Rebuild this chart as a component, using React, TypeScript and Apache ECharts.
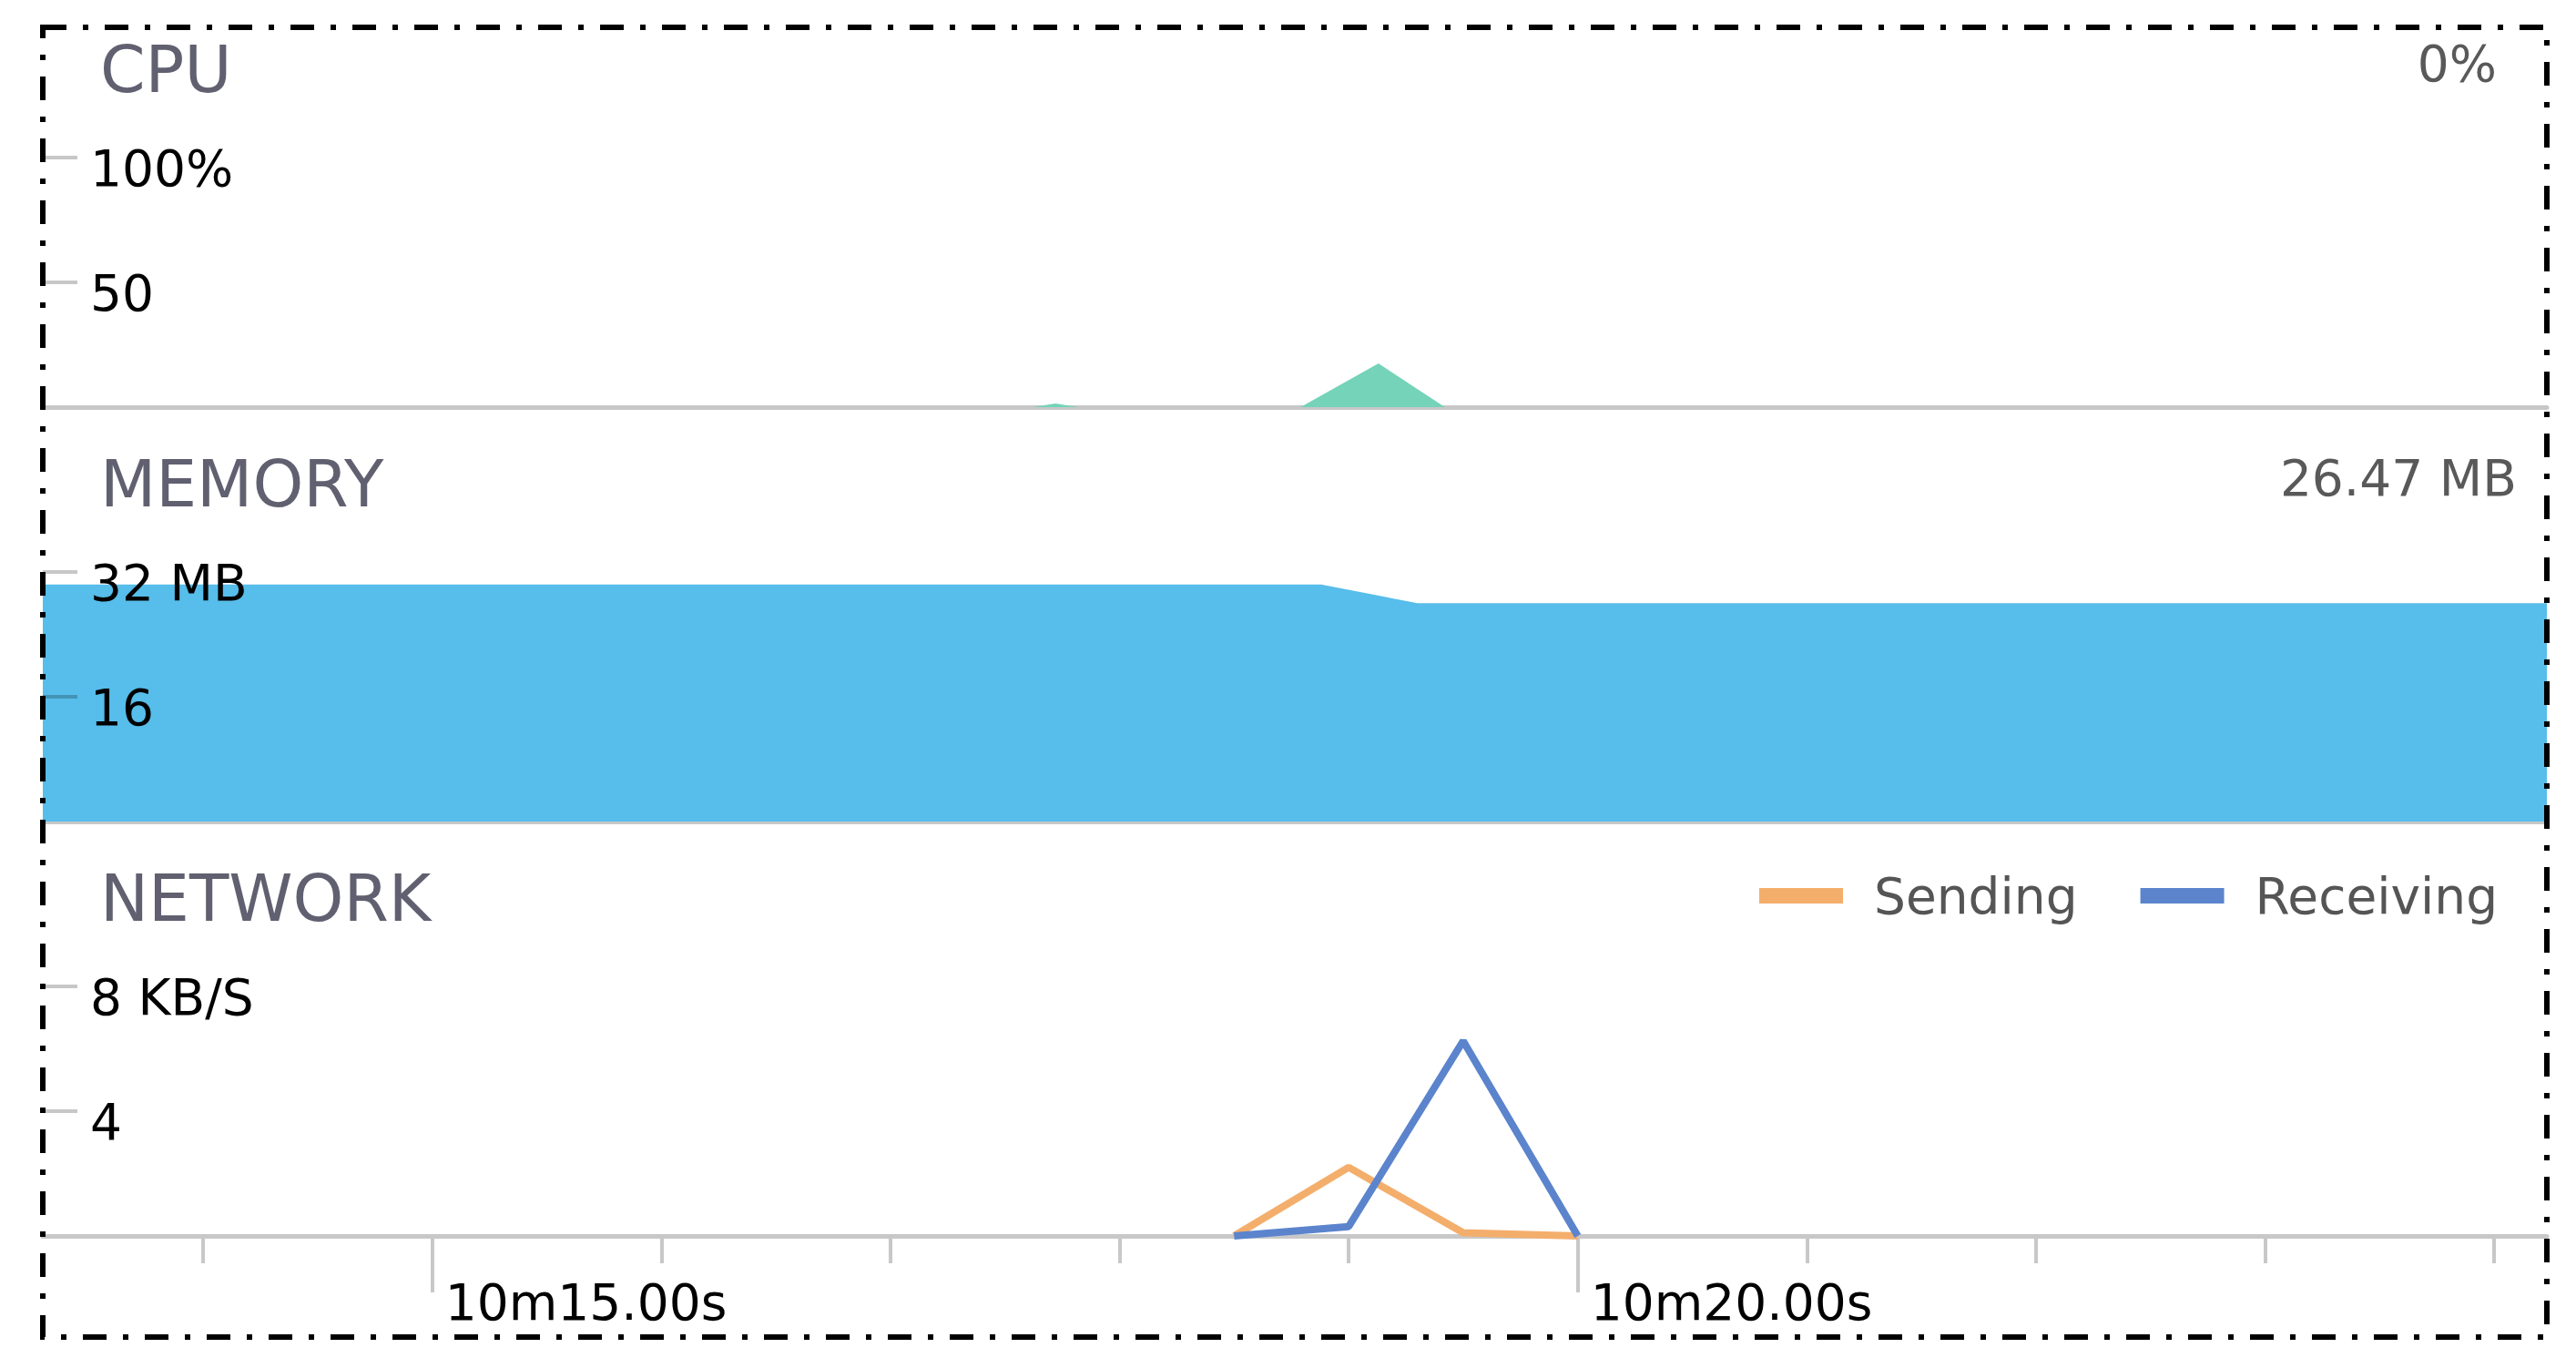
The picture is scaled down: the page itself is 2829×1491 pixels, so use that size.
import React, { useEffect, useRef } from "react";
import * as echarts from "echarts";

// ---- data (time in seconds after 10 minutes) ----
const timeRange = [13.3, 24.23];
const timeMajorTicks = [15, 20];
const timeMajorLabels = ["10m15.00s", "10m20.00s"];
const timeMinorTicks = [14, 16, 17, 18, 19, 21, 22, 23, 24];

const panelTitles = ["CPU", "MEMORY", "NETWORK"];
const currentCpu = "0%";
const currentMemory = "26.47 MB";

const cpuTimes = [13.3, 17.62, 17.72, 17.82, 18.79, 19.13, 19.42, 24.23];
const cpuValues = [0, 0, 1.5, 0, 0, 17.5, 0, 0];

const memoryTimes = [13.3, 18.88, 19.3, 24.23];
const memoryValues = [30.4, 30.4, 28.0, 28.0];

const networkTimes = [18.5, 19.0, 19.5, 20.0];
const sendingValues = [0, 2.2, 0.1, 0];
const receivingValues = [0, 0.3, 6.25, 0];
const networkSeriesNames = ["Sending", "Receiving"];

const cpuTickValues = [50, 100];
const cpuTickLabels = ["50", "100%"];
const memoryTickValues = [16, 32];
const memoryTickLabels = ["16", "32 MB"];
const networkTickValues = [4, 8];
const networkTickLabels = ["4", "8 KB/S"];

// ---- styling ----
const FONT = "'DejaVu Sans', 'Liberation Sans', sans-serif";
const GRID_LEFT = 47;
const GRID_RIGHT = 32;
const GRID_TOP0 = 173;
const GRID_H = 274;
const STEP = 455;
const AXIS_GRAY = "rgba(0,0,0,0.22)";
const COLORS = {
  cpu: "#74d3b9",
  memory: "#57bdea",
  sending: "#f4ae6c",
  receiving: "#5b84cd",
};

function labelFrom(values: number[], labels: string[]) {
  return (v: number) => {
    const i = values.findIndex((x) => Math.abs(x - v) < 1e-9);
    return i >= 0 ? labels[i] : "";
  };
}

function yAxis(gridIndex: number, max: number, interval: number, values: number[], labels: string[]) {
  return {
    type: "value",
    gridIndex,
    z: 4,
    min: 0,
    max,
    interval,
    axisLine: { show: false },
    splitLine: { show: false },
    axisTick: { show: true, inside: true, length: 38, lineStyle: { color: AXIS_GRAY, width: 4 } },
    axisLabel: {
      inside: true,
      margin: 52,
      showMinLabel: false,
      fontSize: 55,
      fontFamily: FONT,
      color: "#000",
      verticalAlign: "top",
      lineHeight: 24,
      formatter: labelFrom(values, labels),
    },
  };
}

function plainXAxis(gridIndex: number) {
  return {
    type: "value",
    gridIndex,
    min: timeRange[0],
    max: timeRange[1],
    position: "bottom",
    axisLine: { show: true, lineStyle: { color: AXIS_GRAY, width: 5 } },
    axisTick: { show: false },
    axisLabel: { show: false },
    splitLine: { show: false },
  };
}

export default function App() {
  const ref = useRef<HTMLDivElement>(null);

  useEffect(() => {
    if (!ref.current) return;
    const chart = echarts.init(ref.current, null, { renderer: "svg" });

    const pairs = (xs: number[], ys: number[]) => xs.map((x, i) => [x, ys[i]]);

    const option: any = {
      animation: false,
      backgroundColor: "#fff",
      grid: [0, 1, 2].map((i) => ({
        left: GRID_LEFT,
        right: GRID_RIGHT,
        top: GRID_TOP0 + i * STEP,
        height: GRID_H,
      })),
      xAxis: [
        plainXAxis(0),
        plainXAxis(1),
        {
          type: "value",
          gridIndex: 2,
          z: 3,
          min: timeRange[0],
          max: timeRange[1],
          position: "bottom",
          axisLine: { show: true, lineStyle: { color: "#c8c8c8", width: 5 } },
          axisTick: {
            show: true,
            customValues: timeMajorTicks,
            length: 62,
            lineStyle: { color: "#c8c8c8", width: 4 },
          },
          axisLabel: {
            show: true,
            customValues: timeMajorTicks,
            formatter: labelFrom(timeMajorTicks, timeMajorLabels),
            margin: 45,
            align: "left",
            padding: [0, 0, 0, 14],
            fontSize: 55,
            fontFamily: FONT,
            color: "#000",
          },
          splitLine: { show: false },
        },
        {
          type: "value",
          gridIndex: 2,
          min: timeRange[0],
          max: timeRange[1],
          position: "bottom",
          axisLine: { show: false },
          axisTick: {
            show: true,
            customValues: timeMinorTicks,
            length: 30,
            lineStyle: { color: "#c8c8c8", width: 4 },
          },
          axisLabel: { show: false },
          splitLine: { show: false },
        },
      ],
      yAxis: [
        yAxis(0, 100, 50, cpuTickValues, cpuTickLabels),
        yAxis(1, 32, 16, memoryTickValues, memoryTickLabels),
        yAxis(2, 8, 4, networkTickValues, networkTickLabels),
      ],
      legend: {
        data: networkSeriesNames,
        left: 1932,
        top: 956,
        padding: 0,
        icon: "rect",
        itemWidth: 92,
        itemHeight: 17,
        itemGap: 69,
        textStyle: {
          fontSize: 55,
          fontFamily: FONT,
          color: "#555",
          padding: [0, 0, 0, 29],
        },
      },
      series: [
        {
          name: "CPU",
          type: "line",
          xAxisIndex: 0,
          yAxisIndex: 0,
          data: pairs(cpuTimes, cpuValues),
          symbol: "none",
          lineStyle: { width: 0, color: COLORS.cpu },
          itemStyle: { color: COLORS.cpu },
          areaStyle: { color: COLORS.cpu, opacity: 1 },
        },
        {
          name: "Memory",
          type: "line",
          xAxisIndex: 1,
          yAxisIndex: 1,
          data: pairs(memoryTimes, memoryValues),
          symbol: "none",
          lineStyle: { width: 0, color: COLORS.memory },
          itemStyle: { color: COLORS.memory },
          areaStyle: { color: COLORS.memory, opacity: 1 },
        },
        {
          name: networkSeriesNames[0],
          type: "line",
          xAxisIndex: 2,
          yAxisIndex: 2,
          data: pairs(networkTimes, sendingValues),
          symbol: "none",
          lineStyle: { width: 8, color: COLORS.sending },
          itemStyle: { color: COLORS.sending },
        },
        {
          name: networkSeriesNames[1],
          type: "line",
          xAxisIndex: 2,
          yAxisIndex: 2,
          data: pairs(networkTimes, receivingValues),
          symbol: "none",
          lineStyle: { width: 8, color: COLORS.receiving },
          itemStyle: { color: COLORS.receiving },
        },
      ],
      graphic: [
        ...panelTitles.map((t, i) => ({
          type: "text",
          x: 110,
          y: 76 + i * STEP,
          z: 50,
          style: {
            text: t,
            fontSize: 71,
            fontFamily: FONT,
            fill: "#606070",
            align: "left",
            textAlign: "left",
            verticalAlign: "middle",
            textVerticalAlign: "middle",
          },
        })),
        {
          type: "text",
          x: 2742,
          y: 70,
          z: 50,
          style: {
            text: currentCpu,
            fontSize: 55,
            fontFamily: FONT,
            fill: "#595959",
            align: "right",
            textAlign: "right",
            verticalAlign: "middle",
            textVerticalAlign: "middle",
          },
        },
        {
          type: "text",
          x: 2764,
          y: 525,
          z: 50,
          style: {
            text: currentMemory,
            fontSize: 55,
            fontFamily: FONT,
            fill: "#595959",
            align: "right",
            textAlign: "right",
            verticalAlign: "middle",
            textVerticalAlign: "middle",
          },
        },
        {
          type: "rect",
          z: 100,
          shape: { x: 47, y: 30, width: 2750, height: 1438 },
          style: { fill: "none", stroke: "#000", lineWidth: 6, lineDash: [26, 18, 6, 18] },
        },
      ],
    };

    chart.setOption(option);
    return () => chart.dispose();
  }, []);

  return (
    <div
      ref={ref}
      style={{ position: "fixed", left: 0, top: 0, width: 2829, height: 1491, background: "#fff" }}
    />
  );
}
